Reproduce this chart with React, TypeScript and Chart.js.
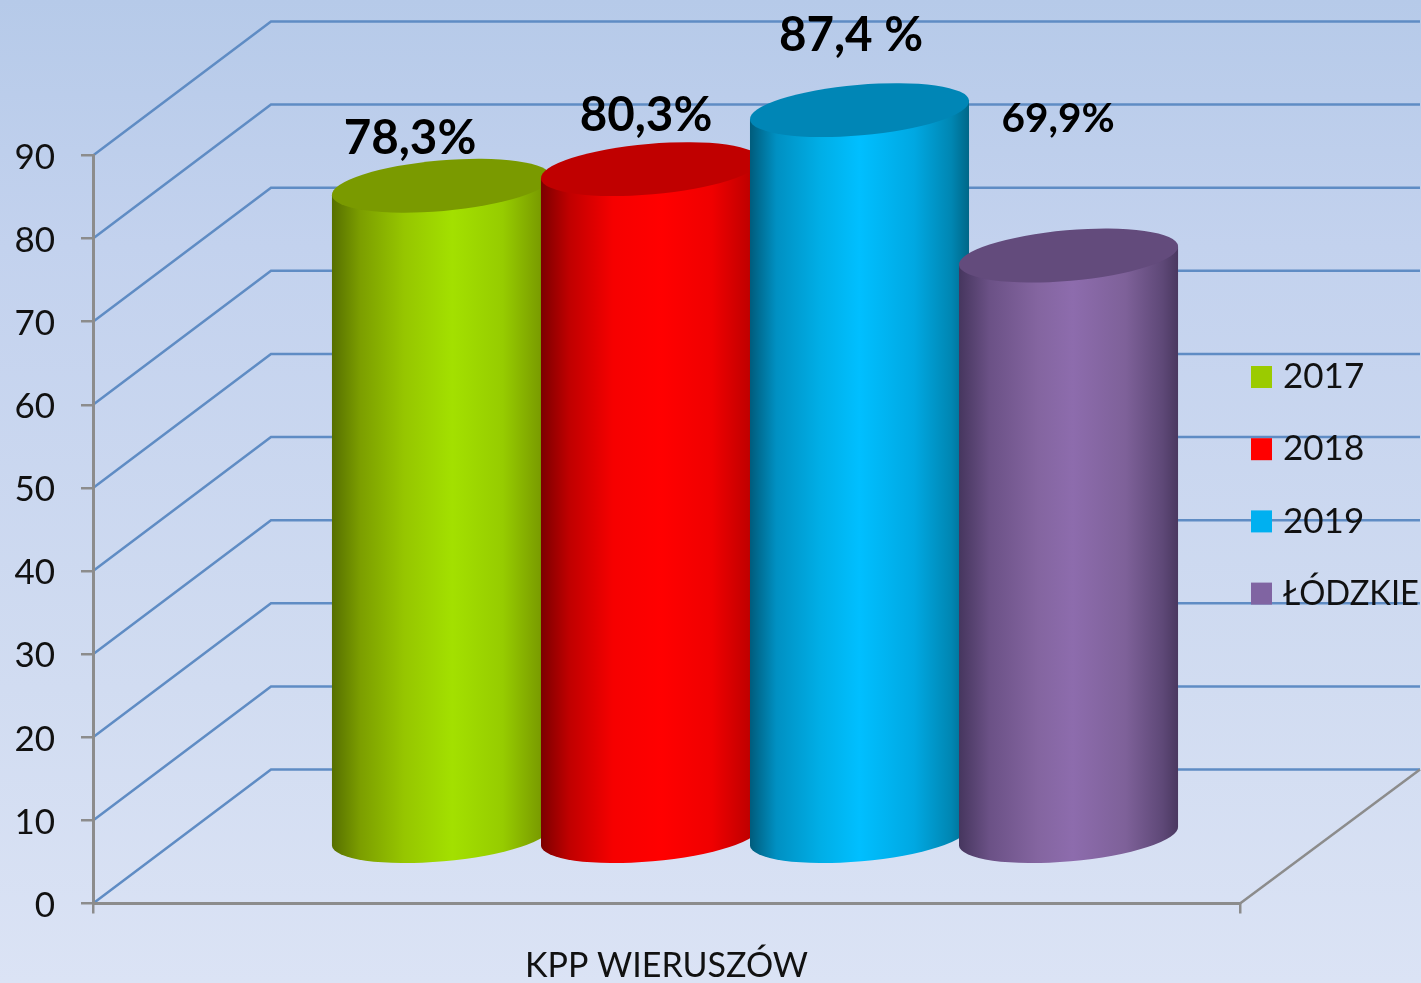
import React, { useEffect, useRef } from "react";
import { Chart, registerables } from "chart.js";

Chart.register(...registerables);

const categories = ["KPP WIERUSZÓW"];
const seriesNames = ["2017", "2018", "2019", "ŁÓDZKIE"];
const values2017 = [78.3];
const values2018 = [80.3];
const values2019 = [87.4];
const valuesLodzkie = [69.9];
const valueLabels = ["78,3%", "80,3%", "87,4 %", "69,9%"];
const legendColors = ["#9bcb00", "#ff0000", "#00b0f0", "#8064a2"];

const FONT = "Lato, Carlito, sans-serif";
const W = 1421;
const H = 983;
const DEPTH_X = 178;
const DEPTH_Y = 134;
const WALL_RIGHT = 1420;

const bodyStops = [
  [[0, "#566f00"], [0.13, "#7c9e00"], [0.33, "#96c600"], [0.55, "#a3e000"], [0.78, "#96cc00"], [0.95, "#7a9c00"], [1, "#6c8a00"]],
  [[0, "#7c0000"], [0.13, "#c00000"], [0.33, "#f60000"], [0.55, "#ff0000"], [0.78, "#f00000"], [0.95, "#c00000"], [1, "#a00000"]],
  [[0, "#005c7c"], [0.12, "#0090c2"], [0.32, "#00aee6"], [0.5, "#00bfff"], [0.75, "#00a8e2"], [0.92, "#0086b2"], [1, "#006788"]],
  [[0, "#46365e"], [0.14, "#6b5186"], [0.36, "#8465a0"], [0.52, "#8d6cad"], [0.76, "#7e6199"], [0.93, "#5e4877"], [1, "#4a3860"]],
] as [number, string][][];
const capColors = ["#7a9a00", "#c00000", "#0086b6", "#634b7c"];
const labelStyles = [
  { dx: 57, dy: -114, size: 47.5 },
  { dx: 84, dy: -120, size: 47.5 },
  { dx: 80, dy: -141, size: 47.5 },
  { dx: 78, dy: -204, size: 40.5 },
];

const wallPlugin = {
  id: "wall",
  beforeDraw(chart: any) {
    const { ctx, chartArea, scales } = chart;
    const bg = ctx.createLinearGradient(0, 0, 0, H);
    bg.addColorStop(0, "#b6cae9");
    bg.addColorStop(0.25, "#c3d2ee");
    bg.addColorStop(0.7, "#d1dcf1");
    bg.addColorStop(1, "#dbe3f5");
    ctx.fillStyle = bg;
    ctx.fillRect(0, 0, W, H);
    ctx.save();
    ctx.lineWidth = 2.5;
    ctx.strokeStyle = "#5f8cc4";
    for (const t of scales.y.ticks) {
      const y = scales.y.getPixelForValue(t.value);
      ctx.beginPath();
      ctx.moveTo(chartArea.left, y);
      ctx.lineTo(chartArea.left + DEPTH_X, y - DEPTH_Y);
      ctx.lineTo(WALL_RIGHT, y - DEPTH_Y);
      ctx.stroke();
    }
    ctx.strokeStyle = "#8c8c8c";
    ctx.beginPath();
    ctx.moveTo(chartArea.right, chartArea.bottom);
    ctx.lineTo(WALL_RIGHT, chartArea.bottom - DEPTH_Y);
    ctx.stroke();
    ctx.restore();
  },
  beforeDatasetDraw() {
    return false;
  },
  afterDatasetsDraw(chart: any) {
    const { ctx } = chart;
    chart.data.datasets.forEach((_: any, i: number) => {
      const el = chart.getDatasetMeta(i).data[0];
      const half = el.width / 2;
      const cx = el.x + DEPTH_X / 2 - 0.5;
      const topY = el.y - DEPTH_Y / 2;
      const baseY = el.base - DEPTH_Y / 2 + 0.8;
      const rot = (-5 * Math.PI) / 180;
      const a = half * 1.004;
      const b = half * 0.231;
      const side = half * 0.083;
      const g = ctx.createLinearGradient(cx - half, 0, cx + half, 0);
      bodyStops[i].forEach(([p, c]) => g.addColorStop(p, c));
      ctx.save();
      ctx.fillStyle = g;
      ctx.beginPath();
      ctx.moveTo(cx - half, topY + side);
      ctx.lineTo(cx + half, topY - side);
      ctx.lineTo(cx + half, baseY - side);
      ctx.lineTo(cx - half, baseY + side);
      ctx.closePath();
      ctx.fill();
      ctx.beginPath();
      ctx.ellipse(cx, baseY, a, b, rot, 0, Math.PI * 2);
      ctx.fill();
      ctx.fillStyle = capColors[i];
      ctx.beginPath();
      ctx.ellipse(cx, topY, a, b, rot, 0, Math.PI * 2);
      ctx.fill();
      ctx.restore();
    });
    valueLabels.forEach((text, i) => {
      const el = chart.getDatasetMeta(i).data[0];
      const s = labelStyles[i];
      ctx.save();
      ctx.fillStyle = "#000";
      ctx.font = `bold ${s.size}px ${FONT}`;
      ctx.textAlign = "center";
      ctx.textBaseline = "middle";
      ctx.fillText(text, el.x + s.dx, el.y + s.dy);
      ctx.restore();
    });
  },
  afterDraw(chart: any) {
    const { ctx } = chart;
    chart.data.datasets.forEach((ds: any, i: number) => {
      const cy = 377 + i * 72.2;
      ctx.save();
      ctx.fillStyle = legendColors[i];
      ctx.fillRect(1251, cy - 11, 21, 22);
      ctx.fillStyle = "#111";
      ctx.font = `35px ${FONT}`;
      ctx.textAlign = "left";
      ctx.textBaseline = "middle";
      ctx.fillText(ds.label, 1283, cy, 136);
      ctx.restore();
    });
  },
};

export default function App() {
  const ref = useRef<HTMLCanvasElement | null>(null);
  useEffect(() => {
    if (!ref.current) return;
    const series = [values2017, values2018, values2019, valuesLodzkie];
    const chart = new Chart(ref.current, {
      type: "bar",
      data: {
        labels: categories,
        datasets: series.map((data, i) => ({
          label: seriesNames[i],
          data,
          backgroundColor: legendColors[i],
          categoryPercentage: 0.7289,
          barPercentage: 1.048,
        })),
      },
      plugins: [wallPlugin],
      options: {
        responsive: false,
        animation: false,
        layout: { padding: { top: 155.5, right: 181, left: 0, bottom: 0 } },
        plugins: { legend: { display: false }, tooltip: { enabled: false }, title: { display: false } },
        scales: {
          x: {
            afterFit(s: any) {
              s.height = 79.5;
            },
            offset: true,
            grid: { drawOnChartArea: false, drawTicks: true, tickLength: 10, color: "#8c8c8c", lineWidth: 2.5, offset: true },
            border: { color: "#8c8c8c", width: 3 },
            ticks: { color: "#111", font: { family: FONT, size: 34 }, padding: 32, maxRotation: 0 },
          },
          y: {
            min: 0,
            max: 90,
            afterFit(s: any) {
              s.width = 93;
            },
            grid: { drawOnChartArea: false, drawTicks: true, tickLength: 12, color: "#8c8c8c", lineWidth: 2.5 },
            border: { color: "#8c8c8c", width: 3 },
            ticks: { stepSize: 10, color: "#111", font: { family: FONT, size: 35 }, padding: 26, labelOffset: 2 },
          },
        },
      },
    } as any);
    return () => chart.destroy();
  }, []);
  return (
    <div style={{ position: "absolute", left: 0, top: 0, width: W, height: H }}>
      <canvas ref={ref} width={W} height={H} style={{ display: "block" }} />
    </div>
  );
}
